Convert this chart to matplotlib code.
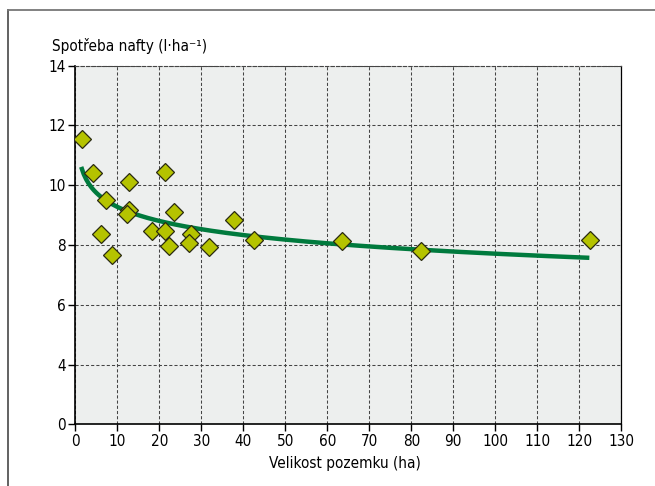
import numpy as np
import matplotlib
import matplotlib.pyplot as plt
from matplotlib.lines import Line2D

matplotlib.use("Agg")
plt.rcParams['font.family'] = ['DejaVu Sans']
plt.rcParams['font.stretch'] = 'condensed'

# plot size (ha) and fuel consumption (l/ha)
plot_size = [1.6, 4.1, 7.3, 6.1, 8.8, 12.7, 12.7, 12.2, 21.4, 23.6, 18.3,
             21.3, 22.3, 27.5, 27.1, 31.8, 37.9, 42.6, 63.5, 82.4, 122.5]
consumption = [11.55, 10.41, 9.51, 8.38, 7.67, 10.10, 9.17, 9.04, 10.45, 9.10, 8.48,
               8.48, 7.95, 8.38, 8.06, 7.94, 8.84, 8.17, 8.15, 7.80, 8.17]

x_ticks = list(range(0, 131, 10))
y_ticks = [2, 4, 6, 8, 10, 12, 14]
y_tick_labels = ["0", "4", "6", "8", "10", "12", "14"]

x = np.array(plot_size)
y = np.array(consumption)

# logarithmic trend line
b, a = np.polyfit(np.log(x), y, 1)
x_fit = np.linspace(1.4, 122.4, 200)
y_fit = a + b*np.log(x_fit)

fig = plt.figure(figsize=(6.55, 4.86), dpi=100)
ax = fig.add_axes([0.115, 0.127, 0.8335, 0.7378])
ax.set_facecolor("#edefee")

ax.plot(x_fit, y_fit, color="#007a3d", lw=3.2, zorder=3, solid_capstyle="butt")
ax.plot(x, y, linestyle="none", marker="D", markersize=9.5,
        markerfacecolor="#b5c300", markeredgecolor="#2a2a10", markeredgewidth=0.9, zorder=4)

ax.set_xlim(0, 130)
ax.set_ylim(2, 14)
ax.set_xticks(x_ticks)
ax.set_yticks(y_ticks)
ax.set_yticklabels(y_tick_labels)
ax.tick_params(labelsize=11, length=5, width=1, color="black", pad=2)
ax.grid(True, color="#444444", linestyle=(0, (3, 2)), lw=0.75)
ax.set_axisbelow(True)

ax.spines["left"].set_linewidth(1.2)
ax.spines["bottom"].set_linewidth(1.2)
ax.spines["top"].set_linestyle((0, (3, 2)))
ax.spines["top"].set_linewidth(0.8)
ax.spines["top"].set_color("#444444")
ax.spines["right"].set_linewidth(0.9)

fig.text(0.079, 0.905, "Spotřeba nafty (l·ha⁻¹)", fontsize=11, ha="left", va="center")
fig.text(0.527, 0.047, "Velikost pozemku (ha)", fontsize=11, ha="center", va="center")

# border around the figure
fig.add_artist(Line2D([8/655, 8/655], [0, 1 - 10/486], color="#555555", lw=1.3))
fig.add_artist(Line2D([8/655, 1], [1 - 10/486, 1 - 10/486], color="#777777", lw=1.3))

fig.savefig("out.png")
